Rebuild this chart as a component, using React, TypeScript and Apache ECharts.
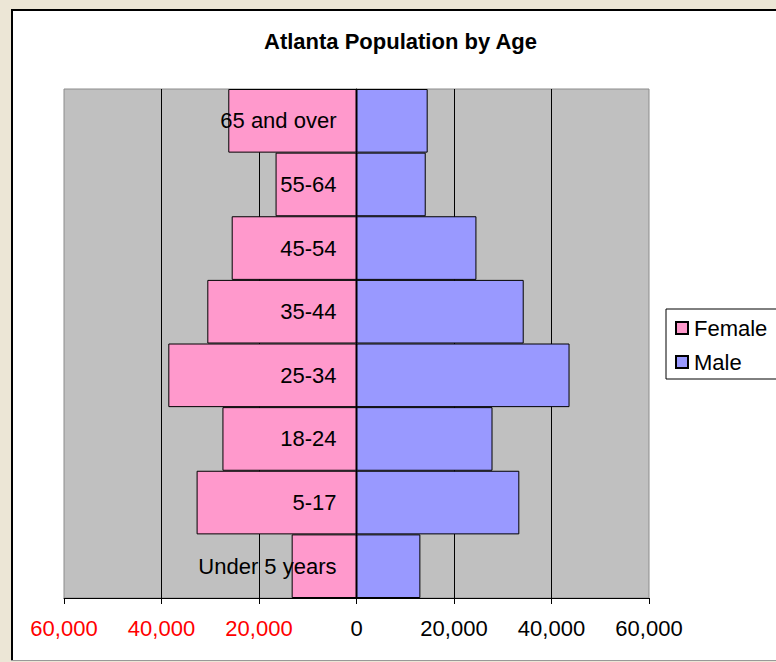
import React, { useEffect, useRef } from "react";
import * as echarts from "echarts";

const categories = ["Under 5 years", "5-17", "18-24", "25-34", "35-44", "45-54", "55-64", "65 and over"];
const femaleValues = [13300, 32800, 27500, 38600, 30600, 25600, 16600, 26300];
const maleValues = [13100, 33400, 27900, 43700, 34300, 24600, 14200, 14600];
const seriesNames = ["Female", "Male"];
const titleText = "Atlanta Population by Age";

const FONT = "'Liberation Sans', Arial, sans-serif";

function fmt(v: number): string {
  return Math.abs(v).toString().replace(/\B(?=(\d{3})+(?!\d))/g, ",");
}

export default function App() {
  const ref = useRef<HTMLDivElement>(null);
  useEffect(() => {
    if (!ref.current) return;
    const chart = echarts.init(ref.current, null, { renderer: "svg" });
    chart.setOption({
      animation: false,
      backgroundColor: "#ECE6D6",
      textStyle: { fontFamily: FONT },
      graphic: [
        { type: "rect", z: -10, shape: { x: 11, y: 9, width: 800, height: 652 }, style: { fill: "#fff" } },
        { type: "line", z: -9, shape: { x1: 11, y1: 10, x2: 776, y2: 10 }, style: { stroke: "#000", lineWidth: 2 } },
        { type: "line", z: -9, shape: { x1: 12, y1: 9, x2: 12, y2: 661 }, style: { stroke: "#000", lineWidth: 2 } },
        { type: "line", z: -9, shape: { x1: 11, y1: 660.5, x2: 776, y2: 660.5 }, style: { stroke: "#999", lineWidth: 1 } },
      ],
      title: {
        text: titleText,
        left: 259,
        top: 25,
        textStyle: { fontFamily: FONT, fontSize: 22, fontWeight: "bold", color: "#000" },
      },
      legend: {
        orient: "vertical",
        left: 666,
        top: 309,
        padding: [8, 40, 6, 9],
        itemGap: 12,
        itemWidth: 12,
        itemHeight: 12,
        icon: "rect",
        backgroundColor: "#fff",
        borderColor: "#000",
        borderWidth: 1,
        borderRadius: 0,
        textStyle: { fontFamily: FONT, fontSize: 22, color: "#000", lineHeight: 20, padding: [0, 0, 0, 1] },
        data: seriesNames,
      },
      grid: {
        left: 64,
        right: 127,
        top: 89,
        bottom: 64,
        show: true,
        backgroundColor: "#C0C0C0",
        borderColor: "#8c8c8c",
        borderWidth: 1,
        containLabel: false,
        outerBoundsMode: "none",
      },
      xAxis: {
        type: "value",
        min: -60000,
        max: 60000,
        interval: 20000,
        axisLine: { show: true, onZero: false, lineStyle: { color: "#000", width: 1 } },
        axisTick: { show: true, length: 6, lineStyle: { color: "#000" } },
        splitLine: { show: true, showMinLine: false, showMaxLine: false, lineStyle: { color: "#000", width: 1 } },
        axisLabel: {
          margin: 19,
          fontFamily: FONT,
          fontSize: 22,
          formatter: (v: number) => (v < 0 ? `{neg|${fmt(v)}}` : `{pos|${fmt(v)}}`),
          rich: {
            neg: { color: "#FF0000", fontFamily: FONT, fontSize: 22 },
            pos: { color: "#000", fontFamily: FONT, fontSize: 22 },
          },
        },
      },
      yAxis: {
        type: "category",
        data: categories,
        z: 10,
        position: "left",
        offset: -292.5,
        axisLine: { show: true, onZero: false, lineStyle: { color: "#000", width: 1 } },
        axisTick: { show: false },
        splitLine: { show: false },
        axisLabel: { margin: 20, fontFamily: FONT, fontSize: 22, color: "#000" },
      },
      series: [
        {
          name: seriesNames[0],
          type: "bar",
          stack: "total",
          barCategoryGap: 0,
          data: femaleValues.map((v) => -v),
          itemStyle: { color: "#FF99CC", borderColor: "#000", borderWidth: 1 },
        },
        {
          name: seriesNames[1],
          type: "bar",
          stack: "total",
          barCategoryGap: 0,
          data: maleValues,
          itemStyle: { color: "#9999FF", borderColor: "#000", borderWidth: 1 },
        },
      ],
    });
    return () => chart.dispose();
  }, []);
  return <div ref={ref} style={{ position: "fixed", left: 0, top: 0, width: 776, height: 662 }} />;
}
